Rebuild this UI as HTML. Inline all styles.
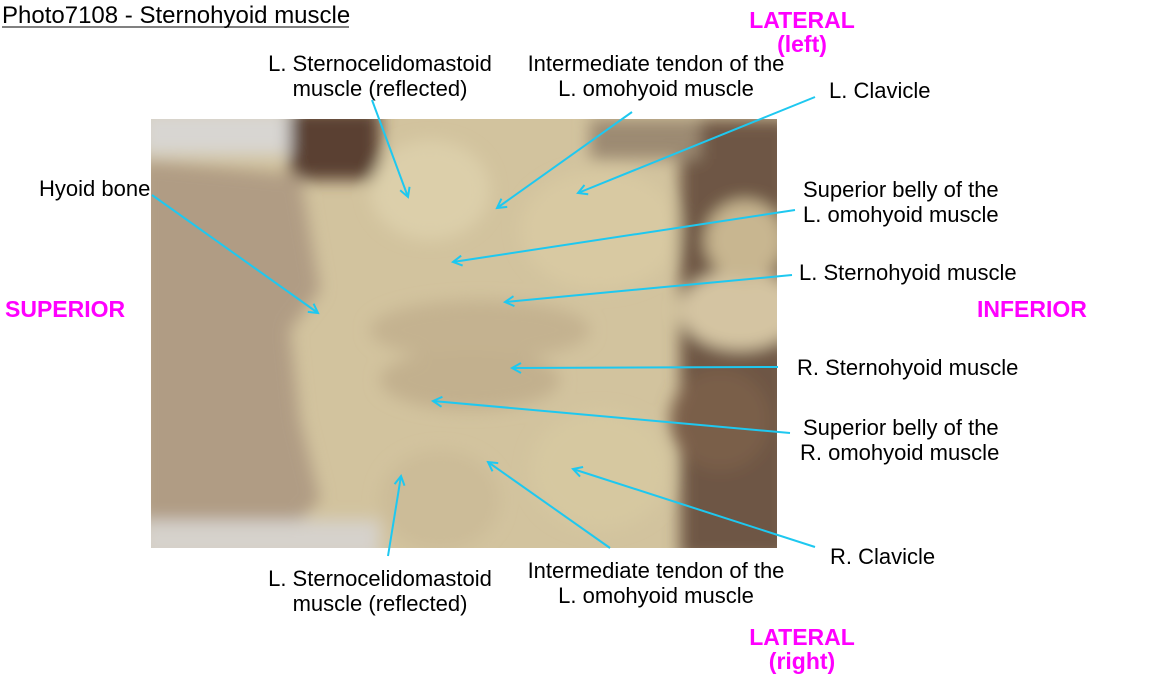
<!DOCTYPE html>
<html><head><meta charset="utf-8"><style>
html,body{margin:0;padding:0;background:#fff;width:1153px;height:685px;overflow:hidden}
svg{display:block}
text{font-family:"Liberation Sans",Arial,sans-serif;font-size:22px;fill:#000}
.m{fill:#ff00ff;font-weight:bold;font-size:23px}
</style></head><body>
<svg width="1153" height="685" viewBox="0 0 1153 685">
<defs>
<filter id="b" x="-20%" y="-20%" width="140%" height="140%"><feGaussianBlur stdDeviation="8"/></filter>
<clipPath id="c"><rect x="151" y="119" width="626" height="429"/></clipPath>
<marker id="a" markerWidth="12" markerHeight="12" refX="10" refY="6" orient="auto" markerUnits="userSpaceOnUse"><path d="M1,1 L10,6 L1,11" fill="none" stroke="#1ec8f0" stroke-width="2"/></marker>
</defs>
<g clip-path="url(#c)">
<rect x="151" y="119" width="626" height="429" fill="#d2c39e"/>
<g filter="url(#b)">
<rect x="680" y="119" width="110" height="440" fill="#6e5644"/>
<rect x="590" y="119" width="110" height="40" fill="#9c8a72"/>
<ellipse cx="740" cy="310" rx="60" ry="40" fill="#d4c4a2"/>
<ellipse cx="745" cy="240" rx="40" ry="40" fill="#c8b690"/>
<rect x="140" y="110" width="180" height="45" fill="#d8d6d2"/>
<rect x="290" y="110" width="90" height="70" fill="#5a4030"/>
<path d="M140,160 L300,175 L320,290 L290,330 L300,420 L320,500 L300,520 L140,520 Z" fill="#b09c84"/>
<rect x="140" y="520" width="240" height="40" fill="#d6d2cc"/>
<ellipse cx="430" cy="190" rx="60" ry="50" fill="#dccfaa"/>
<ellipse cx="600" cy="230" rx="80" ry="60" fill="#d8c9a2"/>
<ellipse cx="480" cy="330" rx="110" ry="30" fill="#c4b290"/>
<ellipse cx="470" cy="380" rx="90" ry="30" fill="#c2b08e"/>
<ellipse cx="720" cy="420" rx="50" ry="50" fill="#7a5e4a"/>
<ellipse cx="600" cy="470" rx="70" ry="60" fill="#d6c8a0"/>
<ellipse cx="440" cy="500" rx="60" ry="50" fill="#ccbc98"/>
</g>
</g>
<g stroke="#1ec8f0" stroke-width="2" fill="none" marker-end="url(#a)">
<line x1="372" y1="100" x2="408" y2="197"/>
<line x1="632" y1="112" x2="497" y2="208"/>
<line x1="815" y1="97" x2="578" y2="193"/>
<line x1="152" y1="195" x2="318" y2="313"/>
<line x1="795" y1="210" x2="453" y2="262"/>
<line x1="792" y1="275" x2="505" y2="302"/>
<line x1="778" y1="367" x2="512" y2="368"/>
<line x1="790" y1="433" x2="433" y2="401"/>
<line x1="815" y1="547" x2="573" y2="469"/>
<line x1="610" y1="548" x2="488" y2="462"/>
<line x1="388" y1="556" x2="401" y2="476"/>
</g>
<text x="2" y="23" style="font-size:24px">Photo7108 - Sternohyoid muscle</text>
<line x1="2" y1="27" x2="349" y2="27" stroke="#000" stroke-width="1"/>
<text class="m" x="802" y="28" text-anchor="middle">LATERAL</text>
<text class="m" x="802" y="52" text-anchor="middle">(left)</text>
<text class="m" x="802" y="645" text-anchor="middle">LATERAL</text>
<text class="m" x="802" y="669" text-anchor="middle">(right)</text>
<text class="m" x="5" y="317">SUPERIOR</text>
<text class="m" x="977" y="317">INFERIOR</text>
<text x="380" y="71" text-anchor="middle">L. Sternocelidomastoid</text>
<text x="380" y="96" text-anchor="middle">muscle (reflected)</text>
<text x="656" y="71" text-anchor="middle">Intermediate tendon of the</text>
<text x="656" y="96" text-anchor="middle">L. omohyoid muscle</text>
<text x="829" y="98">L. Clavicle</text>
<text x="39" y="196">Hyoid bone</text>
<text x="803" y="197">Superior belly of the</text>
<text x="803" y="222">L. omohyoid muscle</text>
<text x="799" y="280">L. Sternohyoid muscle</text>
<text x="797" y="375">R. Sternohyoid muscle</text>
<text x="803" y="435">Superior belly of the</text>
<text x="800" y="460">R. omohyoid muscle</text>
<text x="830" y="564">R. Clavicle</text>
<text x="380" y="586" text-anchor="middle">L. Sternocelidomastoid</text>
<text x="380" y="611" text-anchor="middle">muscle (reflected)</text>
<text x="656" y="578" text-anchor="middle">Intermediate tendon of the</text>
<text x="656" y="603" text-anchor="middle">L. omohyoid muscle</text>
</svg>
</body></html>
